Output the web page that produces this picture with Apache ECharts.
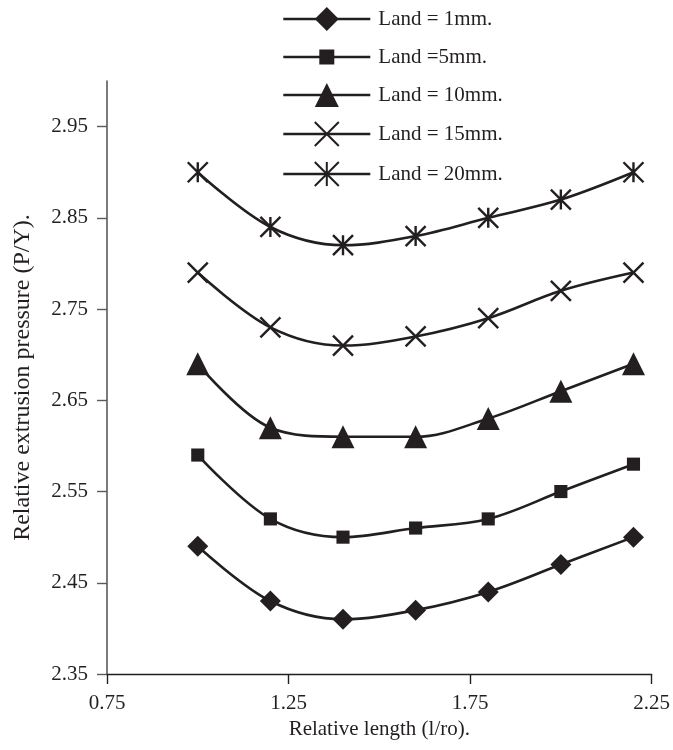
<!DOCTYPE html>
<html>
<head>
<meta charset="utf-8">
<script src="https://cdn.jsdelivr.net/npm/echarts@6/dist/echarts.min.js"></script>
<style>
html,body{margin:0;padding:0;background:#fff;}
#chart{width:673px;height:750px;}
</style>
</head>
<body>
<div id="chart"></div>
<script>
// ---- data ----
var xValues = [1.0, 1.2, 1.4, 1.6, 1.8, 2.0, 2.2];
var land1  = [2.49, 2.43, 2.41, 2.42, 2.44, 2.47, 2.50];
var land5  = [2.59, 2.52, 2.50, 2.51, 2.52, 2.55, 2.58];
var land10 = [2.69, 2.62, 2.61, 2.61, 2.63, 2.66, 2.69];
var land15 = [2.79, 2.73, 2.71, 2.72, 2.74, 2.77, 2.79];
var land20 = [2.90, 2.84, 2.82, 2.83, 2.85, 2.87, 2.90];
var seriesNames = ['Land = 1mm.', 'Land =5mm.', 'Land = 10mm.', 'Land = 15mm.', 'Land = 20mm.'];
var yTickValues = [2.35, 2.45, 2.55, 2.65, 2.75, 2.85, 2.95];
var xTickValues = [0.75, 1.25, 1.75, 2.25];

var INK = '#231f20';
var FONT = 'Liberation Serif';

function pairs(ys) { return xValues.map(function (x, i) { return [x, ys[i]]; }); }

var squarePath = 'path://M0 0 M16 16 M3 3 L13 3 L13 13 L3 13 Z';
var crossPath = 'path://M0 0 L20 20 M20 0 L0 20';
var starPath = 'path://M0 0 L20 20 M20 0 L0 20 M10 0 L10 20';

function mk(name, ys, symbol, size, stroke) {
  return {
    name: name,
    type: 'line',
    data: pairs(ys),
    smooth: 0.35,
    symbol: symbol,
    symbolSize: size,
    showAllSymbol: true,
    lineStyle: { color: INK, width: 2.6 },
    itemStyle: stroke ? { color: INK, borderColor: INK, borderWidth: 2.4 } : { color: INK, borderWidth: 0 },
    emphasis: { disabled: true },
    animation: false
  };
}

var chart = echarts.init(document.getElementById('chart'), null, { renderer: 'canvas' });
chart.setOption({
  backgroundColor: '#fff',
  animation: false,
  textStyle: { fontFamily: FONT, color: INK },
  grid: { left: 107, right: 20, top: 81, bottom: 76, containLabel: false },
  legend: {
    orient: 'vertical',
    left: 282,
    top: 7,
    padding: 0,
    itemWidth: 87,
    itemHeight: 30,
    itemGap: 14,
    data: seriesNames,
    lineStyle: { color: INK, width: 2.6 },
    textStyle: { fontFamily: FONT, fontSize: 21, color: INK, padding: [0, 0, 0, 3] },
    selectedMode: false
  },
  xAxis: {
    type: 'value',
    min: 0.75,
    max: 2.25,
    interval: 0.5,
    name: 'Relative length (l/ro).',
    nameLocation: 'middle',
    nameGap: 44,
    nameTextStyle: { fontFamily: FONT, fontSize: 21, color: INK },
    axisLine: { show: true, onZero: false, lineStyle: { color: INK, width: 1.4 } },
    axisTick: { show: true, length: 10, inside: false, customValues: xTickValues, lineStyle: { color: INK, width: 1.4 } },
    axisLabel: { fontFamily: FONT, fontSize: 21, color: INK, margin: 19, customValues: xTickValues,
      formatter: function (v) { return v.toFixed(2); } },
    splitLine: { show: false }
  },
  yAxis: {
    type: 'value',
    min: 2.35,
    max: 3.0,
    interval: 0.1,
    name: 'Relative extrusion pressure (P/Y).',
    nameLocation: 'middle',
    nameGap: 72,
    nameRotate: 90,
    nameTextStyle: { fontFamily: FONT, fontSize: 24, color: INK },
    axisLine: { show: true, onZero: false, lineStyle: { color: '#5a5a5a', width: 1.6 } },
    axisTick: { show: true, length: 10, inside: false, customValues: yTickValues, lineStyle: { color: '#5a5a5a', width: 1.4 } },
    axisLabel: { fontFamily: FONT, fontSize: 21, color: INK, margin: 19, customValues: yTickValues,
      formatter: function (v) { return v.toFixed(2); } },
    splitLine: { show: false }
  },
  series: [
    mk(seriesNames[0], land1, 'diamond', 21, false),
    mk(seriesNames[1], land5, squarePath, 21, false),
    mk(seriesNames[2], land10, 'triangle', 23, false),
    mk(seriesNames[3], land15, crossPath, 20, true),
    mk(seriesNames[4], land20, starPath, 20, true)
  ]
});
</script>
</body>
</html>
